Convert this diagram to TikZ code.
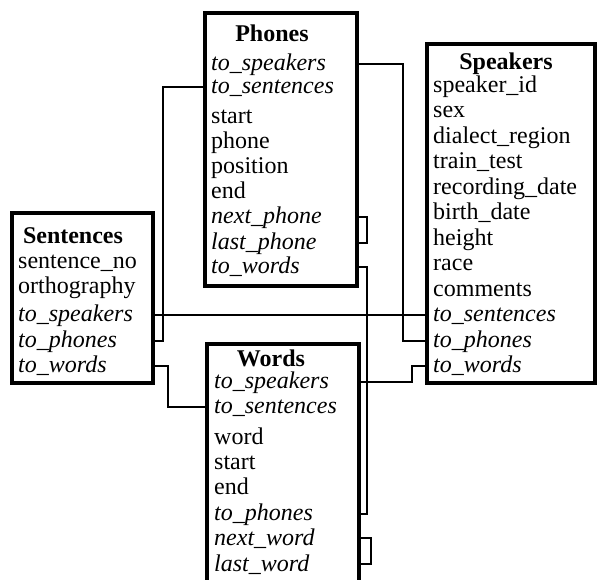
\documentclass[tikz,border=0pt]{standalone}
\usepackage{fontspec}
\setmainfont{Liberation Serif}
\usetikzlibrary{calc}

\tikzset{
  tablebox/.style={draw, rectangle, line width=3.2pt, inner sep=0pt, outer sep=0pt},
  field/.style={anchor=west, inner sep=0pt, text height=19pt, text depth=5pt,
    font=\fontsize{24}{26}\selectfont},
  ptrfield/.style={field, font=\fontsize{24}{26}\selectfont\itshape},
  tabletitle/.style={anchor=base, inner sep=0pt, font=\fontsize{24}{26}\selectfont\bfseries},
  link/.style={line width=1.3pt, black}
}

\begin{document}
\begin{tikzpicture}[x=1pt,y=-1pt]
		\useasboundingbox (0,0) rectangle (598,580);
		\clip (0,0) rectangle (598,580); % Words runs off the page
		% The four tables
		\node[tablebox, minimum width=152pt, minimum height=273pt] (phones)    at (281,149.5) {};
		\node[tablebox, minimum width=168pt, minimum height=339pt] (speakers)  at (511,213.5) {};
		\node[tablebox, minimum width=141pt, minimum height=170pt] (sentences) at (82.5,298)  {};
		\node[tablebox, minimum width=152pt, minimum height=250pt] (words)     at (283,469)   {};

		\node[tabletitle] (phones-title)    at (272,42)  {Phones};
		\node[tabletitle] (speakers-title)  at (506,70)  {Speakers};
		\node[tabletitle] (sentences-title) at (73,244)  {Sentences};
		\node[tabletitle] (words-title)     at (271,367) {Words};

		% Phones fields
		\foreach \nm/\yy/\txt in {tospeakers/64/to\_speakers, tosentences/87/to\_sentences,
		  nextphone/217/next\_phone, lastphone/243/last\_phone, towords/267/to\_words}{%
			\node[ptrfield] (ph-\nm) at (211,\yy) {\txt};
		}
		\foreach \nm/\yy/\txt in {start/117/start, phone/142/phone, position/167/position, end/192/end}{%
			\node[field] (ph-\nm) at (211,\yy) {\txt};
		}
		% Speakers fields
		\foreach \nm/\yy/\txt in {speakerid/86/speaker\_id, sex/111/sex, dialect/137/dialect\_region,
		  traintest/162/train\_test, recdate/188/recording\_date, birthdate/213/birth\_date,
		  height/239/height, race/264/race, comments/290/comments}{%
			\node[field] (sp-\nm) at (433,\yy) {\txt};
		}
		\foreach \nm/\yy/\txt in {tosentences/315/to\_sentences, tophones/341/to\_phones, towords/366/to\_words}{%
			\node[ptrfield] (sp-\nm) at (433,\yy) {\txt};
		}
		% Sentences fields
		\node[field] (sn-sentenceno)  at (18,262) {sentence\_no};
		\node[field] (sn-orthography) at (18,287) {orthography};
		\foreach \nm/\yy/\txt in {tospeakers/315/to\_speakers, tophones/341/to\_phones, towords/366/to\_words}{%
			\node[ptrfield] (sn-\nm) at (18,\yy) {\txt};
		}
		% Words fields
		\foreach \nm/\yy/\txt in {tospeakers/382/to\_speakers, tosentences/407/to\_sentences,
		  tophones/514/to\_phones, nextword/538/next\_word, lastword/564/last\_word}{%
			\node[ptrfield] (wd-\nm) at (214,\yy) {\txt};
		}
		\foreach \nm/\yy/\txt in {word/438/word, start/463/start, end/488/end}{%
			\node[field] (wd-\nm) at (214,\yy) {\txt};
		}

		% Pointers between the tables
		\draw[link] (sn-tospeakers -| sentences.east) -- (sp-tosentences -| speakers.west);
		\draw[link] (sn-tophones -| sentences.east) -- ++(10,0) |- (ph-tosentences -| phones.west);
		\draw[link] (sn-towords -| sentences.east) -- ++(15,0) |- (wd-tosentences -| words.west);
		\draw[link] (ph-tospeakers -| phones.east) -- ++(46,0) |- (sp-tophones -| speakers.west);
		\draw[link] (ph-towords -| phones.east) -- ++(10,0) |- (wd-tophones -| words.east);
		\draw[link] (wd-tospeakers -| words.east) -- ++(53,0) |- (sp-towords -| speakers.west);
		% next/last links inside a table
		\draw[link] (ph-nextphone -| phones.east) -- ++(10,0) |- (ph-lastphone -| phones.east);
		\draw[link] (wd-nextword -| words.east) -- ++(12,0) |- (wd-lastword -| words.east);
	  \end{tikzpicture}
\end{document}
